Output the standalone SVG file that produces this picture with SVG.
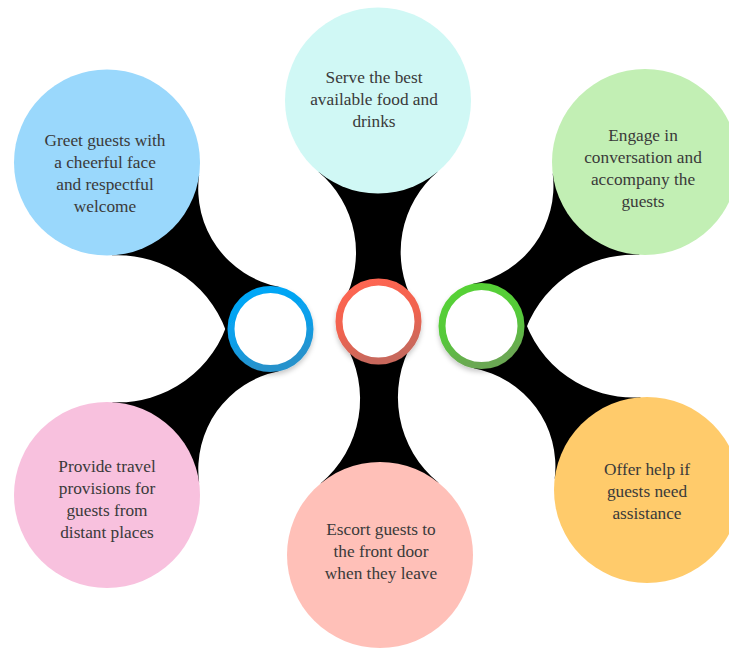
<svg xmlns="http://www.w3.org/2000/svg" width="729" height="648" viewBox="0 0 729 648">
<style>
.conn{fill:#000000;stroke:none}
.big{stroke:none}
.lbl{font-family:"Liberation Serif","DejaVu Serif",serif;font-size:17.3px;fill:#3a3a3a;text-anchor:middle}
.ring{fill:#ffffff;stroke-width:7}
</style>
<defs>
<linearGradient id="gBlue" x1="0" y1="0" x2="0.3" y2="1"><stop offset="0" stop-color="#00A9FA"/><stop offset="0.6" stop-color="#0A9FEA"/><stop offset="1" stop-color="#2892CC"/></linearGradient>
<linearGradient id="gRed" x1="0" y1="0" x2="0.3" y2="1"><stop offset="0" stop-color="#FF6652"/><stop offset="0.6" stop-color="#F0634F"/><stop offset="1" stop-color="#C9685C"/></linearGradient>
<linearGradient id="gGreen" x1="0" y1="0" x2="0.3" y2="1"><stop offset="0" stop-color="#57D335"/><stop offset="0.6" stop-color="#55C93A"/><stop offset="1" stop-color="#6AA852"/></linearGradient>
<filter id="sh" x="-30%" y="-30%" width="160%" height="170%"><feDropShadow dx="0" dy="3" stdDeviation="2.5" flood-color="#000" flood-opacity="0.22"/></filter>
</defs>
<rect width="729" height="648" fill="#ffffff"/>
<g id="connectors">
<path class="conn" d="M199.14,175.12 A100,100 0 0 0 278.83,286.81 L228.99,340.22 A115,115 0 0 0 111.90,255.37 Z"/>
<path class="conn" d="M111.97,402.13 A115,115 0 0 0 229.03,317.65 L278.85,371.18 A100,100 0 0 0 199.17,482.60 Z"/>
<path class="conn" d="M318.35,171.86 A105,105 0 0 1 343.33,302.44 L413.58,302.28 A105,105 0 0 1 437.97,171.58 Z"/>
<path class="conn" d="M344.25,342.17 A110,110 0 0 1 320.48,483.54 L438.60,482.78 A110,110 0 0 1 413.01,341.73 Z"/>
<path class="conn" d="M552.70,173.45 A100,100 0 0 1 473.07,283.83 L522.82,337.88 A115,115 0 0 1 639.79,254.85 Z"/>
<path class="conn" d="M522.84,314.15 A115,115 0 0 0 640.91,397.20 L554.68,478.72 A100,100 0 0 0 473.66,368.28 Z"/>
</g>
<g id="node-greet">
<circle class="big" cx="107" cy="162.5" r="93" fill="#9AD8FC"/>
<text class="lbl" x="105" y="146">Greet guests with</text>
<text class="lbl" x="105" y="168">a cheerful face</text>
<text class="lbl" x="105" y="190">and respectful</text>
<text class="lbl" x="105" y="212">welcome</text>
</g>
<g id="node-serve">
<circle class="big" cx="378" cy="100.5" r="93" fill="#D0F8F5"/>
<text class="lbl" x="374" y="83">Serve the best</text>
<text class="lbl" x="374" y="105">available food and</text>
<text class="lbl" x="374" y="127">drinks</text>
</g>
<g id="node-engage">
<circle class="big" cx="645" cy="162" r="93" fill="#C2EFB4"/>
<text class="lbl" x="643" y="141">Engage in</text>
<text class="lbl" x="643" y="163">conversation and</text>
<text class="lbl" x="643" y="185">accompany the</text>
<text class="lbl" x="643" y="207">guests</text>
</g>
<g id="node-provide">
<circle class="big" cx="107" cy="495" r="93" fill="#F8C1DE"/>
<text class="lbl" x="107" y="472">Provide travel</text>
<text class="lbl" x="107" y="494">provisions for</text>
<text class="lbl" x="107" y="516">guests from</text>
<text class="lbl" x="107" y="538">distant places</text>
</g>
<g id="node-escort">
<circle class="big" cx="380" cy="555" r="93" fill="#FFC0B8"/>
<text class="lbl" x="381" y="535">Escort guests to</text>
<text class="lbl" x="381" y="557">the front door</text>
<text class="lbl" x="381" y="579">when they leave</text>
</g>
<g id="node-offer">
<circle class="big" cx="647" cy="490" r="93" fill="#FFCB6B"/>
<text class="lbl" x="647" y="475">Offer help if</text>
<text class="lbl" x="647" y="497">guests need</text>
<text class="lbl" x="647" y="519">assistance</text>
</g>
<g id="ring-blue" filter="url(#sh)">
<circle class="ring" cx="270.5" cy="329" r="39.5" stroke="url(#gBlue)"/>
</g>
<g id="ring-red" filter="url(#sh)">
<circle class="ring" cx="378.5" cy="321.5" r="39.5" stroke="url(#gRed)"/>
</g>
<g id="ring-green" filter="url(#sh)">
<circle class="ring" cx="481.5" cy="326" r="39.5" stroke="url(#gGreen)"/>
</g>
</svg>
